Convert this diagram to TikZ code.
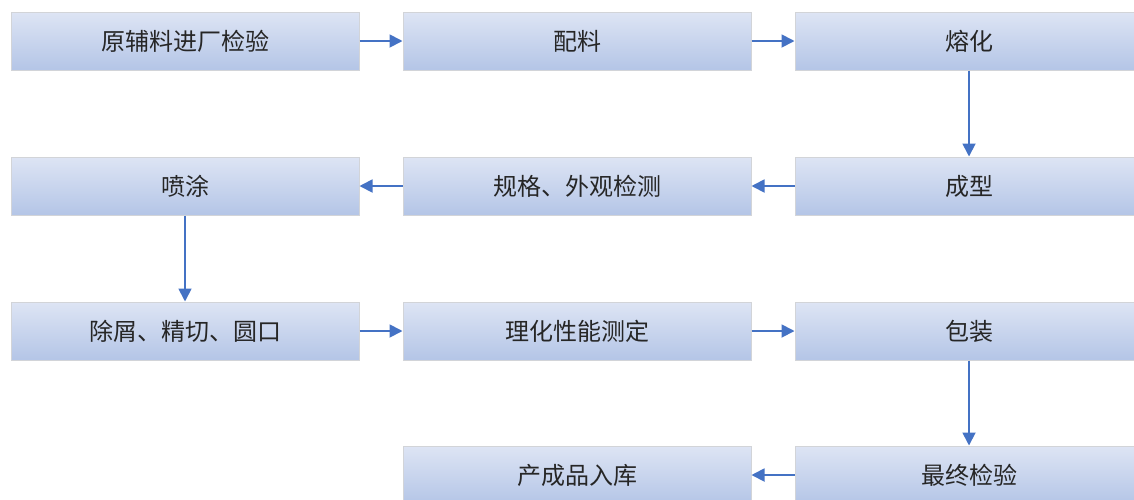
\documentclass[tikz,border=0pt]{standalone}
\usepackage{fontspec}
\newfontfamily\cjk{Noto Sans CJK SC}
\usepackage{tikz}
\usetikzlibrary{arrows.meta}

\definecolor{bxtop}{HTML}{F2F4FB}
\definecolor{bxdark}{HTML}{A9BDE3}
\definecolor{bxbot}{HTML}{B4C5E7}
\definecolor{bxline}{HTML}{D2D4D8}
\definecolor{arrowblue}{HTML}{4472C4}
\pgfdeclareverticalshading{boxshade}{100bp}{color(0bp)=(bxbot); color(12bp)=(bxdark); color(100bp)=(bxtop)}

\begin{document}
\begin{tikzpicture}[x=1pt,y=1pt]

\tikzstyle{every node}=[font=\cjk\fontsize{24}{28}\selectfont, text=black!85]
\tikzstyle{stepbox}=[draw=bxline, line width=1pt, shading=boxshade,
  minimum width=348pt, minimum height=58pt, inner sep=0pt]
\tikzstyle{flow}=[draw=arrowblue, line width=1.8pt,
  -{Triangle[length=13pt,width=13pt]}]

\useasboundingbox (0,0) rectangle (1134,-499);

\pgfmathsetmacro\x{185}
\pgfmathsetmacro\dx{392}
\pgfmathsetmacro\y{-41}

\node[stepbox] (inspect) at (\x, \y) {原辅料进厂检验};
\node[stepbox] (batch) at (\x+\dx, \y) {配料};
\node[stepbox] (melt) at (\x+2*\dx, \y) {熔化};

\draw[flow] (inspect) -- (batch);
\draw[flow] (batch) -- (melt);

\pgfmathsetmacro\y{\y-145}
\node[stepbox] (spray) at (\x, \y) {喷涂};
\node[stepbox] (check) at (\x+\dx, \y) {规格、外观检测};
\node[stepbox] (form) at (\x+2*\dx, \y) {成型};

\draw[flow] (melt) -- (form);
\draw[flow] (form) -- (check);
\draw[flow] (check) -- (spray);

\pgfmathsetmacro\y{\y-145}
\node[stepbox] (finish) at (\x, \y) {除屑、精切、圆口};
\node[stepbox] (test) at (\x+\dx, \y) {理化性能测定};
\node[stepbox] (pack) at (\x+2*\dx, \y) {包装};

\draw[flow] (spray) -- (finish);
\draw[flow] (finish) -- (test);
\draw[flow] (test) -- (pack);

\pgfmathsetmacro\y{\y-144}
\node[stepbox] (store) at (\x+\dx, \y) {产成品入库};
\node[stepbox] (final) at (\x+2*\dx, \y) {最终检验};

\draw[flow] (pack) -- (final);
\draw[flow] (final) -- (store);

\end{tikzpicture}
\end{document}
